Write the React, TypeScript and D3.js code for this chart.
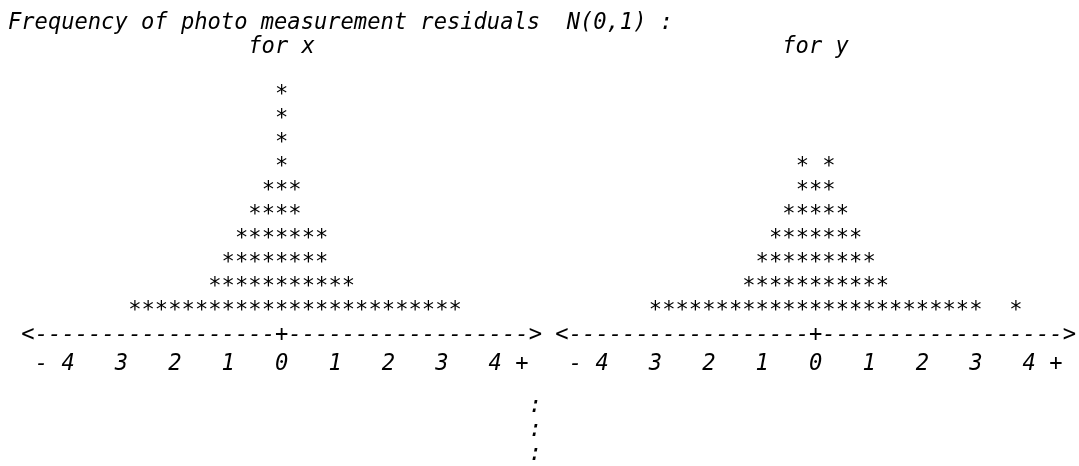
import React from "react";
import * as d3 from "d3";

// monospace listing: every glyph sits on a character grid
const title = "Frequency of photo measurement residuals  N(0,1) :";
const panelLabels = ["for x", "for y"];

// residual bins (in sigma), one character column each
const binValues = [
  -3, -2.75, -2.5, -2.25, -2, -1.75, -1.5, -1.25, -1, -0.75, -0.5, -0.25, 0,
  0.25, 0.5, 0.75, 1, 1.25, 1.5, 1.75, 2, 2.25, 2.5, 2.75, 3, 3.25, 3.5, 3.75,
];
const xCounts = [
  0, 1, 1, 1, 1, 1, 1, 2, 3, 4, 5, 6, 10, 6, 4, 4, 2, 2, 1, 1, 1, 1, 1, 1, 1, 1, 0, 0,
];
const yCounts = [
  1, 1, 1, 1, 1, 1, 1, 2, 3, 4, 5, 7, 6, 7, 5, 4, 3, 2, 1, 1, 1, 1, 1, 1, 1, 0, 0, 1,
];

const tickValues = [-4, -3, -2, -1, 0, 1, 2, 3, 4];
const tickLabels = ["4", "3", "2", "1", "0", "1", "2", "3", "4"];
const endLabels = ["-", "+"];

const W = 1079;
const H = 466;
const charW = 13.35;
const fontSize = 22.1;
const font = "'DejaVu Sans Mono', monospace";

// column -> x centre, row -> baseline
const col = d3.scaleLinear().domain([0, 1]).range([8 + charW / 2, 8 + charW * 1.5]);
const row = d3.scaleLinear().domain([0, 1]).range([29, 53]);

const panels = [
  { label: panelLabels[0], counts: xCounts, centre: 20 },
  { label: panelLabels[1], counts: yCounts, centre: 60 },
];

const axisRow = 13;
const tickDrop = 5; // tick labels sit a little lower than the grid

const Panel = ({ label, counts, centre }: { label: string; counts: number[]; centre: number }) => {
  // one sigma = four columns
  const x = d3.scaleLinear().domain([-4, 4]).range([col(centre - 16), col(centre + 16)]);
  const stars: { x: number; y: number }[] = [];
  binValues.forEach((v, i) => {
    for (let j = 1; j <= counts[i]; j++) stars.push({ x: x(v), y: row(axisRow - j) });
  });
  const axisChars = d3.range(-19, 20).map((k) => ({
    c: k === -19 ? "<" : k === 19 ? ">" : k === 0 ? "+" : "-",
    x: col(centre + k),
  }));
  const ty = row(axisRow + 1) + tickDrop;
  return (
    <g>
      <text x={col(centre - 2) - charW / 2} y={row(1)} textAnchor="start">
        {label}
      </text>
      {stars.map((s, i) => (
        <text key={i} x={s.x} y={s.y} textAnchor="middle">*</text>
      ))}
      {axisChars.map((a, i) => (
        <text key={i} x={a.x} y={row(axisRow)} textAnchor="middle">{a.c}</text>
      ))}
      {tickValues.map((v, i) => (
        <text key={i} x={x(v)} y={ty} textAnchor="middle">{tickLabels[i]}</text>
      ))}
      {endLabels.map((t, i) => (
        <text key={t} x={x(i === 0 ? -4.5 : 4.5)} y={ty} textAnchor="middle">{t}</text>
      ))}
    </g>
  );
};

export default function App() {
  React.useEffect(() => {
    document.body.style.margin = "0";
  }, []);
  return (
    <svg
      width={W}
      height={H}
      style={{ position: "absolute", left: 0, top: 0, background: "#fff", willChange: "transform" }}
      fontFamily={font}
      fontSize={fontSize}
      fontStyle="italic"
      fill="#000"
    >
      <text x={8} y={row(0)} textAnchor="start" style={{ whiteSpace: "pre" }}>
        {title}
      </text>
      {panels.map((p) => (
        <Panel key={p.label} {...p} />
      ))}
      {[16, 17, 18].map((r) => (
        <text key={r} x={col(39)} y={row(r) - 1} textAnchor="middle">:</text>
      ))}
    </svg>
  );
}
